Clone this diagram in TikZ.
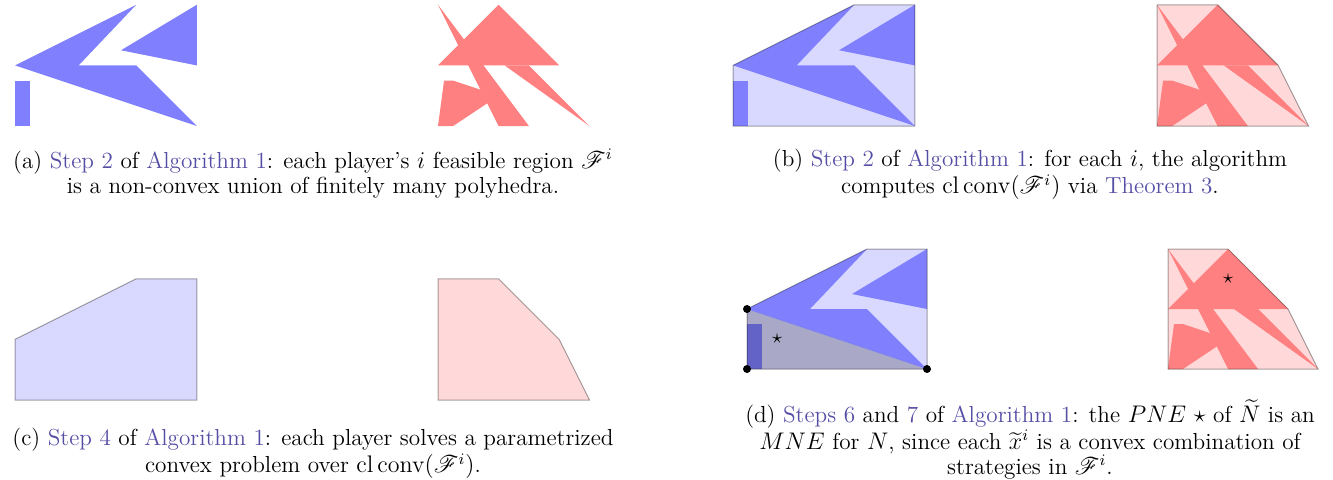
\documentclass[tikz,border=0pt]{standalone}
\usepackage{amsmath,amssymb}
\usepackage{mathrsfs}
\usepackage{tikz}
\definecolor{linkpurple}{RGB}{85,78,165}
\newcommand{\lnk}[1]{\textcolor{linkpurple}{#1}}
\newcommand{\bluehullpath}{(0,0) -- (6,0) -- (6,4) -- (4,4) -- (0,2) -- cycle}
\newcommand{\redhullpath}{(0,0) -- (5,0) -- (4,2) -- (2,4) -- (0,4) -- cycle}
\newcommand{\bluepieces}{
  \fill[bluepiece] (0,2) -- (4,4) -- (2.1,2) -- (4,2) -- (6,0) -- cycle;
  \fill[bluepiece] (6,4) -- (3.5,2.5) -- (6,2) -- cycle;
  \fill[bluepiece] (0,0) rectangle (0.5,1.5);
}
\newcommand{\redpieces}{
  \fill[redpiece] (0,2) -- (2,4) -- (4,2) -- cycle;
  \fill[redpiece] (0,4) -- (2,0) -- (3,0) -- cycle;
  \fill[redpiece] (0,0) -- (0.2,1.5) -- (0.5,1.5) -- (2,1) -- (0.5,0) -- cycle;
  \fill[redpiece] (2.2,2) -- (3,2) -- (5,0) -- cycle;
}

\begin{document}
\begin{tikzpicture}[x=0.5pt,y=-0.5pt,
    bluepiece/.style={fill=blue!50},
    redpiece/.style={fill=red!50},
    bluehull/.style={fill=blue!15},
    redhull/.style={fill=red!15},
    hulledge/.style={draw=black,draw opacity=0.35,line width=0.5pt},
    caption/.style={inner sep=0pt,align=center,font=\fontsize{11.6}{12.5}\selectfont},
    corner/.style={circle,fill=black,inner sep=0pt,minimum size=4pt}]
  \useasboundingbox (0,0) rectangle (1333,479);

  \begin{scope}[shift={(15,126)},x=15.15pt,y=15.15pt]
    \bluepieces
  \end{scope}
  \begin{scope}[shift={(438,126)},x=15.15pt,y=15.15pt]
    \redpieces
  \end{scope}

  \begin{scope}[shift={(733,126)},x=15.15pt,y=15.15pt]
    \fill[bluehull] \bluehullpath;
    \bluepieces
    \draw[hulledge] \bluehullpath;
  \end{scope}
  \begin{scope}[shift={(1157,126)},x=15.15pt,y=15.15pt]
    \fill[redhull] \redhullpath;
    \redpieces
    \draw[hulledge] \redhullpath;
  \end{scope}

  \begin{scope}[shift={(15,400)},x=15.15pt,y=15.15pt]
    \fill[bluehull] \bluehullpath;
    \draw[hulledge] \bluehullpath;
  \end{scope}
  \begin{scope}[shift={(438,400)},x=15.15pt,y=15.15pt]
    \fill[redhull] \redhullpath;
    \draw[hulledge] \redhullpath;
  \end{scope}

  \begin{scope}[shift={(747,369)},x=15pt,y=15pt]
    \fill[bluehull] \bluehullpath;
    \bluepieces
    \draw[hulledge] \bluehullpath;
    \fill[black,fill opacity=0.22] (0,0) -- (6,0) -- (0,2) -- cycle;
    \node[corner] (ctop) at (0,2) {};
    \node[corner] (corig) at (0,0) {};
    \node[corner] (cright) at (6,0) {};
    \node (starblue) at (1,1) {$\star$};
  \end{scope}
  \begin{scope}[shift={(1168,369)},x=15pt,y=15pt]
    \fill[redhull] \redhullpath;
    \redpieces
    \draw[hulledge] \redhullpath;
    \node (starred) at (2,3) {$\star$};
  \end{scope}

  \node[caption,anchor=north] (capa) at (313,149) {(a) \lnk{Step 2} of \lnk{Algorithm 1}: each player's $i$ feasible region $\mathscr{F}^i$\\
    is a non-convex union of finitely many polyhedra.};
  \node[caption,anchor=north] (capb) at (1030,149) {(b) \lnk{Step 2} of \lnk{Algorithm 1}: for each $i$, the algorithm\\
    computes $\mathrm{cl}\,\mathrm{conv}(\mathscr{F}^i)$ via \lnk{Theorem 3}.};
  \node[caption,anchor=north] (capc) at (313,428) {(c) \lnk{Step 4} of \lnk{Algorithm 1}: each player solves a parametrized\\
    convex problem over $\mathrm{cl}\,\mathrm{conv}(\mathscr{F}^i)$.};
  \node[caption,anchor=north] (capd) at (1030,399) {(d) \lnk{Steps 6} and \lnk{7} of \lnk{Algorithm 1}: the $PNE$ $\star$ of $\widetilde{N}$ is an\\
    $MNE$ for $N$, since each $\widetilde{x}^i$ is a convex combination of\\
    strategies in $\mathscr{F}^i$.};
\end{tikzpicture}
\end{document}
